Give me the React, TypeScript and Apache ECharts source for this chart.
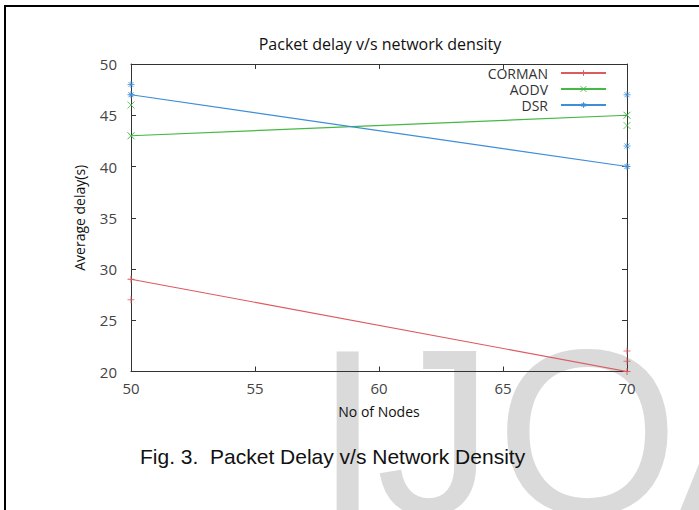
import { useEffect, useRef } from "react";
import * as echarts from "echarts";

// ---- data ----
const nodes = [50, 70];
const seriesNames = ["CORMAN", "AODV", "DSR"];
const cormanDelay = [29, 20];
const aodvDelay = [43, 45];
const dsrDelay = [47, 40];
// additional measured samples (markers only)
const cormanExtraNodes = [50, 70, 70];
const cormanExtraDelay = [27, 22, 21];
const aodvExtraNodes = [50, 70];
const aodvExtraDelay = [46, 44];
const dsrExtraNodes = [50, 70, 70];
const dsrExtraDelay = [48, 42, 47];

const chartTitle = "Packet delay v/s network density";
const xName = "No of Nodes";
const yName = "Average delay(s)";
const caption = "Fig. 3.  Packet Delay v/s Network Density";
const watermarkLetters = ["I", "J", "O", "A"];

const FONT = "'Open Sans', 'DejaVu Sans', sans-serif";
const colors = ["#dc5a60", "#45b845", "#3d8dd8"];
const symbols = [
  "path://M0,-1L0,1M-1,0L1,0",
  "path://M-1,-1L1,1M-1,1L1,-1",
  "path://M0,-1L0,1M-1,0L1,0M-0.72,-0.72L0.72,0.72M-0.72,0.72L0.72,-0.72",
];

const zip = (xs: number[], ys: number[]) => xs.map((x, i) => [x, ys[i]]);

export default function App() {
  const ref = useRef<HTMLDivElement>(null);
  useEffect(() => {
    if (!ref.current) return;
    const chart = echarts.init(ref.current, undefined, { renderer: "svg" });
    const mains = [cormanDelay, aodvDelay, dsrDelay];
    const extras = [
      zip(cormanExtraNodes, cormanExtraDelay),
      zip(aodvExtraNodes, aodvExtraDelay),
      zip(dsrExtraNodes, dsrExtraDelay),
    ];
    const axisLine = { show: true, onZero: false, lineStyle: { color: "#333", width: 1 } };
    const axisTick = { show: true, inside: true, length: 5, lineStyle: { color: "#333", width: 1 } };
    const series: any[] = [];
    seriesNames.forEach((n, i) => {
      series.push({
        name: n,
        type: "line",
        data: zip(nodes, mains[i]),
        symbol: symbols[i],
        symbolSize: 7,
        showSymbol: true,
        lineStyle: { color: colors[i], width: 1.2 },
        itemStyle: { color: colors[i], borderColor: colors[i], borderWidth: 1 },
        emphasis: { disabled: true },
        z: 3,
      });
      series.push({
        name: n + " samples",
        type: "scatter",
        data: extras[i],
        symbol: symbols[i],
        symbolSize: 7,
        itemStyle: { color: colors[i], borderColor: colors[i], borderWidth: 1 },
        emphasis: { disabled: true },
        z: 3,
      });
    });
    // watermark letter positions (left x of each glyph run)
    const wmX = [315, 376, 496, 678];
    chart.setOption({
      animation: false,
      backgroundColor: "#fff",
      title: {
        text: chartTitle,
        left: 375,
        textAlign: "center",
        top: 31,
        textStyle: { fontFamily: FONT, fontSize: 16, fontWeight: "normal", color: "#111" },
      },
      legend: seriesNames.map((n, i) => ({
        data: [n],
        right: 92,
        top: 66 + i * 16,
        orient: "vertical",
        align: "right",
        itemWidth: 45,
        itemHeight: 7,
        padding: 0,
        selectedMode: false,
        itemStyle: { borderWidth: 1 },
        textStyle: { fontFamily: FONT, fontSize: 14, color: "#333", padding: [0, 8, 0, 0] },
      })),
      grid: { left: 131, top: 64, right: 72, bottom: 138.5, containLabel: false },
      xAxis: [
        {
          type: "value",
          min: 50,
          max: 70,
          interval: 5,
          position: "bottom",
          name: xName,
          nameLocation: "middle",
          nameGap: 33,
          nameTextStyle: { fontFamily: FONT, fontSize: 14, color: "#111" },
          axisLine,
          axisTick,
          axisLabel: { margin: 9, fontFamily: FONT, fontSize: 15, color: "#444" },
          splitLine: { show: false },
        },
        {
          type: "value",
          min: 50,
          max: 70,
          interval: 5,
          position: "top",
          axisLine,
          axisTick,
          axisLabel: { show: false },
          splitLine: { show: false },
        },
      ],
      yAxis: [
        {
          type: "value",
          min: 20,
          max: 50,
          interval: 5,
          position: "left",
          name: yName,
          nameLocation: "middle",
          nameGap: 45,
          nameTextStyle: { fontFamily: FONT, fontSize: 14, color: "#111" },
          axisLine,
          axisTick,
          axisLabel: { margin: 14, fontFamily: FONT, fontSize: 15, color: "#444" },
          splitLine: { show: false },
        },
        {
          type: "value",
          min: 20,
          max: 50,
          interval: 5,
          position: "right",
          axisLine,
          axisTick,
          axisLabel: { show: false },
          splitLine: { show: false },
        },
      ],
      graphic: [
        ...watermarkLetters.map((ch, i) => ({
          type: "text",
          z: -10,
          silent: true,
          x: wmX[i],
          y: 432,
          style: {
            text: ch,
            font: "235px 'Liberation Sans', Arial, sans-serif",
            fill: "#dadada",
            verticalAlign: "middle",
            align: "left",
          },
        })),
        {
          type: "rect",
          z: 100,
          silent: true,
          shape: { x: 5, y: 6, width: 720, height: 540 },
          style: { fill: "none", stroke: "#000", lineWidth: 2 },
        },
        {
          type: "text",
          z: 100,
          silent: true,
          x: 140,
          y: 456,
          style: {
            text: caption,
            font: "21px 'Liberation Sans', Arial, sans-serif",
            fill: "#111",
            verticalAlign: "middle",
            align: "left",
          },
        },
      ],
      series,
    });
    return () => chart.dispose();
  }, []);
  return (
    <div
      ref={ref}
      style={{ position: "absolute", left: 0, top: 0, width: 699, height: 510, background: "#fff" }}
    />
  );
}
